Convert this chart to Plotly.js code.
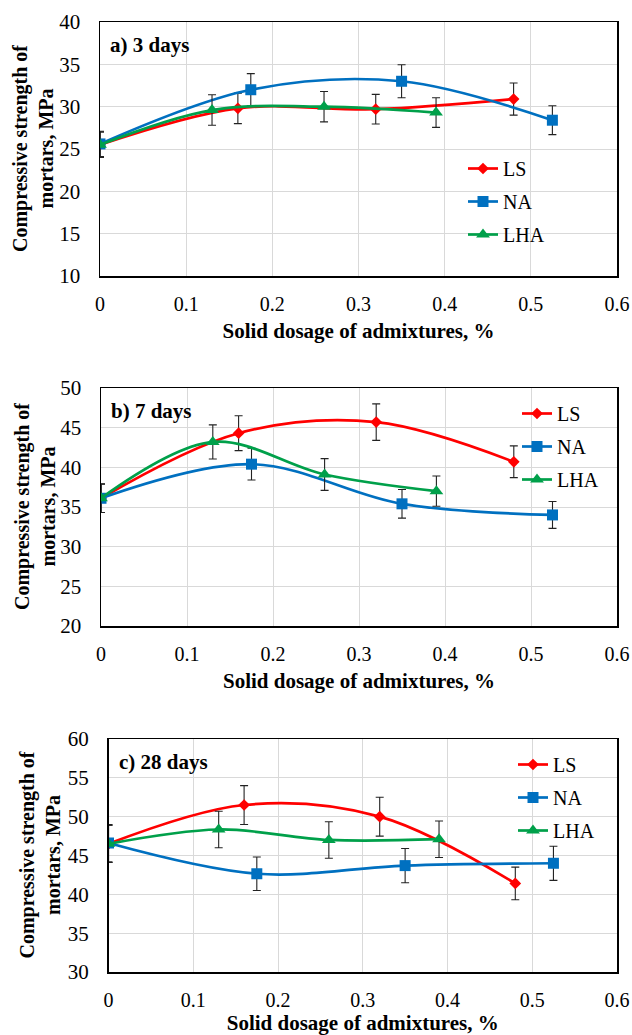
<!DOCTYPE html>
<html>
<head>
<meta charset="utf-8">
<script src="https://cdn.plot.ly/plotly-3.0.1.min.js"></script>
<style>html,body{margin:0;padding:0;background:#fff;}#chart{width:632px;height:1035px;}</style>
</head>
<body>
<div id="chart"></div>
<script>
// Dosages (%)
const xLS = [0, 0.16, 0.32, 0.48];
const xNA = [0, 0.175, 0.35, 0.525];
const xLHA = [0, 0.13, 0.26, 0.39];

// a) 3 days
const LS3 = [25.5, 29.8, 29.7, 30.9];
const LS3err = [1.5, 1.8, 1.75, 1.9];
const NA3 = [25.6, 32.0, 33.0, 28.4];
const NA3err = [1.5, 1.9, 1.95, 1.7];
const LHA3 = [25.5, 29.6, 30.0, 29.3];
const LHA3err = [1.5, 1.8, 1.8, 1.75];

// b) 7 days
const LS7 = [36.1, 44.3, 45.7, 40.7];
const LS7err = [1.8, 2.2, 2.3, 2.0];
const NA7 = [36.1, 40.4, 35.4, 34.0];
const NA7err = [1.8, 2.0, 1.8, 1.7];
const LHA7 = [36.1, 43.2, 39.1, 37.0];
const LHA7err = [1.8, 2.15, 2.0, 1.9];

// c) 28 days
const LS28 = [46.5, 51.5, 50.0, 41.4];
const LS28err = [2.4, 2.5, 2.5, 2.1];
const NA28 = [46.6, 42.65, 43.7, 44.0];
const NA28err = [2.4, 2.15, 2.2, 2.2];
const LHA28 = [46.5, 48.35, 47.0, 47.1];
const LHA28err = [2.4, 2.35, 2.35, 2.35];

const panelLabels = ['a) 3 days', 'b) 7 days', 'c) 28 days'];
const xTitle = 'Solid dosage of admixtures, %';
const yTitle = 'Compressive strength of<br>mortars, MPa';

const RED = '#FF0000', BLUE = '#0070C0', GREEN = '#00A04A';
const SERIF = 'Liberation Serif';

function series(name, x, y, err, color, symbol, size, ax, leg) {
  return {
    type: 'scatter', mode: 'lines+markers', name: name,
    x: x, y: y, xaxis: 'x' + ax, yaxis: 'y' + ax,
    legend: leg, legendgroup: name + ax,
    line: {color: color, width: 2.7, shape: 'spline', smoothing: 1},
    marker: {color: color, symbol: symbol, size: size},
    error_y: {type: 'data', array: err, visible: true, color: '#222', thickness: 1.1, width: 4}
  };
}

const data = [
  series('LS', xLS, LS3, LS3err, RED, 'diamond', 9, '', 'legend'),
  series('NA', xNA, NA3, NA3err, BLUE, 'square', 11, '', 'legend'),
  series('LHA', xLHA, LHA3, LHA3err, GREEN, 'triangle-up', 12, '', 'legend'),
  series('LS', xLS, LS7, LS7err, RED, 'diamond', 9, '2', 'legend2'),
  series('NA', xNA, NA7, NA7err, BLUE, 'square', 11, '2', 'legend2'),
  series('LHA', xLHA, LHA7, LHA7err, GREEN, 'triangle-up', 12, '2', 'legend2'),
  series('LS', xLS, LS28, LS28err, RED, 'diamond', 9, '3', 'legend3'),
  series('NA', xNA, NA28, NA28err, BLUE, 'square', 11, '3', 'legend3'),
  series('LHA', xLHA, LHA28, LHA28err, GREEN, 'triangle-up', 12, '3', 'legend3')
];

const W = 632, H = 1035;
// plot boxes in pixels: [left, right, top, bottom]
const boxes = [[100, 617, 22, 276], [101, 617, 388, 626], [108.5, 617, 739, 972]];
const yRanges = [[10, 40], [20, 50], [30, 60]];

function xax(b, anchor) {
  return {
    domain: [b[0] / W, b[1] / W], anchor: anchor, range: [0, 0.6], dtick: 0.1, tick0: 0,
    showgrid: true, gridcolor: '#D9D9D9', gridwidth: 1, zeroline: false,
    showline: true, linecolor: '#000', linewidth: 1.5, mirror: true, ticks: '',
    ticklabelstandoff: 9,
    tickfont: {family: SERIF, size: 20, color: '#000'},
    title: {text: xTitle, font: {family: SERIF, size: 21, color: '#000', weight: 'bold'}, standoff: 10},
    fixedrange: true
  };
}
function yax(b, r, anchor) {
  return {
    domain: [1 - b[3] / H, 1 - b[2] / H], anchor: anchor, range: r, dtick: 5,
    showgrid: true, gridcolor: '#D9D9D9', gridwidth: 1, zeroline: false,
    showline: true, linecolor: '#000', linewidth: 1.5, mirror: true, ticks: '',
    ticklabelstandoff: 14,
    tickfont: {family: SERIF, size: 21, color: '#000'},
    fixedrange: true
  };
}

function legendAt(px, py) {
  return {
    x: px / W, y: 1 - py / H, xanchor: 'left', yanchor: 'top',
    bgcolor: 'rgba(0,0,0,0)', borderwidth: 0, tracegroupgap: 4,
    font: {family: SERIF, size: 20, color: '#000'}, itemwidth: 30
  };
}

const annotations = [];
const yTitleX = [33, 35, 39];
boxes.forEach((b, i) => {
  annotations.push({
    xref: 'paper', yref: 'paper', x: (b[0] + 8) / W, y: 1 - (b[2] + 23) / H,
    xanchor: 'left', yanchor: 'middle', showarrow: false,
    text: '<b>' + panelLabels[i] + '</b>',
    font: {family: SERIF, size: 21, color: '#000'}
  });
  annotations.push({
    xref: 'paper', yref: 'paper', x: yTitleX[i] / W, y: 1 - ((b[2] + b[3]) / 2) / H,
    xanchor: 'center', yanchor: 'middle', showarrow: false, textangle: -90,
    text: '<b>' + yTitle + '</b>',
    font: {family: SERIF, size: 20, color: '#000'}
  });
});

const layout = {
  width: W, height: H, margin: {l: 0, r: 0, t: 0, b: 0},
  paper_bgcolor: '#fff', plot_bgcolor: '#fff',
  font: {family: SERIF},
  xaxis: xax(boxes[0], 'y'), yaxis: yax(boxes[0], yRanges[0], 'x'),
  xaxis2: xax(boxes[1], 'y2'), yaxis2: yax(boxes[1], yRanges[1], 'x2'),
  xaxis3: xax(boxes[2], 'y3'), yaxis3: yax(boxes[2], yRanges[2], 'x3'),
  legend: legendAt(463, 149),
  legend2: legendAt(517, 394),
  legend3: legendAt(513, 745),
  annotations: annotations,
  showlegend: true
};

Plotly.newPlot('chart', data, layout, {staticPlot: true, displayModeBar: false});
</script>
</body>
</html>
